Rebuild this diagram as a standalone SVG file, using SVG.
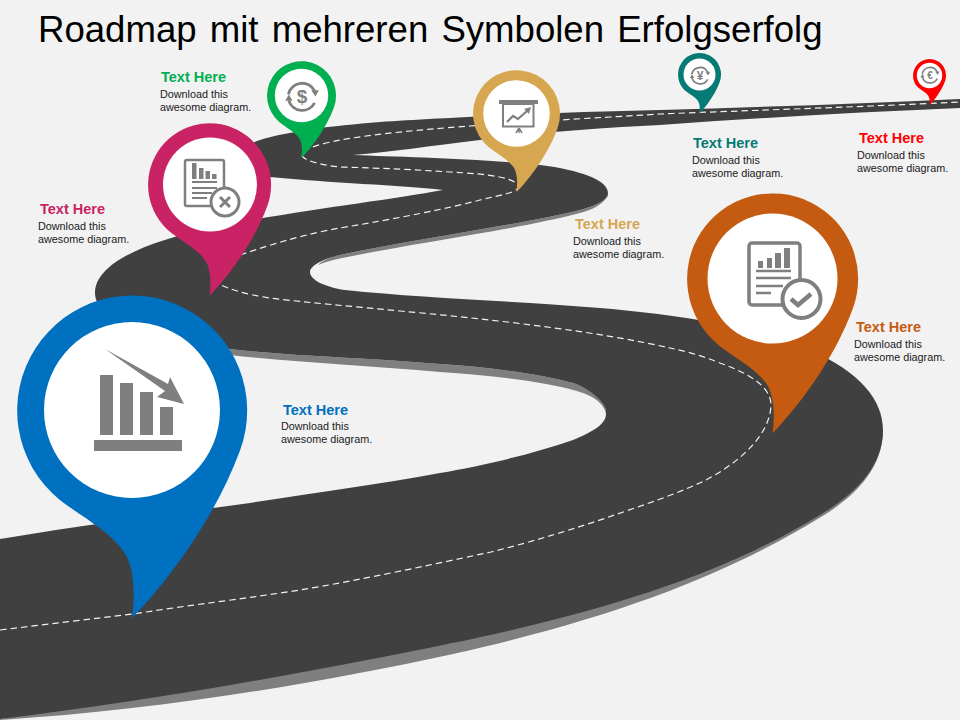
<svg xmlns="http://www.w3.org/2000/svg" xmlns:xlink="http://www.w3.org/1999/xlink" width="960" height="720" viewBox="0 0 960 720">
<style>
text{font-family:"Liberation Sans",Arial,sans-serif}
.h{font-size:14.5px;font-weight:700}
.b{font-size:10.8px;fill:#1a1a1a}
.g{fill:#7f7f7f}
.o{fill:none;stroke:#7f7f7f}
.in{fill:#fff}
.dash{fill:none;stroke:#f2f2f2;stroke-width:1.2;stroke-dasharray:6.5 4}
.sym{fill:#7f7f7f;font-weight:700;text-anchor:middle}
</style>
<defs>
<path id="pin" d="M-.63,.78A1,1 0 1 1 .94,.35C.72,.95 .3,1.5 0,1.81C.03,1.6 .02,1.35 -.08,1.22C-.2,1.05 -.45,.92 -.63,.78Z"/>
<g id="cycle">
<path class="o" stroke-width="2" d="M-9.7,-1.5A10,10 0 0 1 9,-4"/>
<path class="o" stroke-width="2" d="M9,4.5A10,10 0 0 1 -9.4,3"/>
<path class="g" d="M6.6,-4.5L12,-4.5L9.6,0Z"/>
<path class="g" d="M-12,3L-6.8,3L-9.4,-1.5Z"/>
</g>
</defs>
<rect width="960" height="720" fill="#f2f2f2"/>
<text id="title" x="38" y="42" font-size="36.6" word-spacing="3" fill="#000">Roadmap mit mehreren Symbolen Erfolgserfolg</text>
<g id="road">
<path class="g" d="M883,430C883,471 851,499 821,517C731,572 622,616 453,654C320,683 160,710 0,720L0,719L453,643L883,430Z"/>
<path class="g" d="M230,355C290,362 370,366 440,372C490,375 545,382 573,390C590,394 604,402 606,414L606,410C603,399 585,387 573,383C545,375 490,367 440,364C370,358 290,356 230,349Z"/>
<path class="g" d="M318,265C325,262 332,260 340,258.500C420,242 520,229 580,213C592,210 602,205 608,196L608,193C608,200 595,206 580,210C520,225 420,238 340,255C330,257 323,260 318,265Z"/>
<path fill="#404040" d="M0,539C90,524 170,514 250,503C320,492 380,484 440,473C480,466 530,455 573,440C590,433 606,425 606,414L606,410C603,399 585,387 573,383C545,375 490,367 440,364C370,358 290,356 230,349C150,340 95,320 95,293C95,262 150,240 220,226C300,210 390,200 443,190C400,185 330,183 270,177C250,172 240,165 240,158C240,150 250,143 260,140C290,131 330,126 380,122C440,118 560,112 660,110C760,107 860,104 960,99L960,108C860,112 760,118 660,125C600,128 530,133 480,140C430,146 390,152 353,155C400,157 470,158 540,165C580,170 608,180 608,193C608,200 595,206 580,210C520,225 420,238 340,255C322,259 310,266 310,272C310,280 325,287 345,290C420,298 500,300 600,308C690,316 760,328 810,350C860,372 883,400 883,430C883,470 850,497 820,515C730,570 620,608 453,643C320,670 160,700 0,719Z"/>
</g>
<g id="connectors">
<path class="dash" d="M0,630C50,624 90,619 133,614C190,605 250,598 300,590C360,580 430,565 491,552C535,541 570,530 606,518C640,506 675,495 706,480C740,462 770,435 771,405C771,385 745,372 720,363C700,355 685,351 670,348C600,332 500,320 400,311C350,306 310,303 270,298C245,294 230,290 215,282"/>
<path class="dash" d="M240,255C275,243 310,233 340,228C400,218 450,208 480,200C500,195 517,193 518,187C518,178 490,174 450,172C420,170 380,168 340,167C320,165 302,160 302,155C302,148 325,143 340,140C380,133 430,129 470,126C500,124 530,121 560,120C590,118 630,116 660,114C760,110 860,107 960,102"/>
</g>
<g id="node-blue">
<use xlink:href="#pin" href="#pin" transform="translate(132,410) scale(115)" fill="#0070c0"/>
<circle class="in" cx="132" cy="410" r="88"/>
<path class="g" d="M100,375h13v60h-13zM120,383h13v52h-13zM140,392h13v43h-13zM160,407h13v28h-13zM94,440h88v11h-88zM105,349L168,384L170,377L184,404L157,397L165,391Z"/>
<text class="h" x="283" y="415" fill="#0070c0">Text Here</text>
<text class="b" x="281" y="430">Download this</text><text class="b" x="281" y="443">awesome diagram.</text>
</g>
<g id="node-pink">
<use xlink:href="#pin" href="#pin" transform="translate(209.500,184.500) scale(61.500)" fill="#c92365"/>
<circle class="in" cx="210" cy="184.500" r="47"/>
<rect class="o" stroke-width="2.500" x="185" y="160" width="39" height="46" rx="2"/>
<path class="g" d="M192,163h4.500v16h-4.500zM199,168h4.500v11h-4.500zM205.500,171h4.500v8h-4.500zM212,174h4.500v5h-4.500z"/>
<path class="o" stroke-width="1.800" d="M192,182h25M192,188h25M192,193h20M192,198h15"/>
<circle cx="225" cy="202" r="14" fill="#fff" stroke="#7f7f7f" stroke-width="3"/>
<path class="o" stroke-width="3" d="M220,197l10,10M230,197l-10,10"/>
<text class="h" x="40" y="214" fill="#c92365">Text Here</text>
<text class="b" x="38" y="230">Download this</text><text class="b" x="38" y="243">awesome diagram.</text>
</g>
<g id="node-green">
<use xlink:href="#pin" href="#pin" transform="translate(301.500,95.500) scale(34.500)" fill="#00b050"/>
<circle class="in" cx="301.500" cy="95.500" r="26.700"/>
<use xlink:href="#cycle" href="#cycle" transform="translate(302,96.500) scale(1.400)"/>
<text class="sym" x="302" y="103" font-size="19">$</text>
<text class="h" x="161" y="82" fill="#00b050">Text Here</text>
<text class="b" x="160" y="98">Download this</text><text class="b" x="160" y="111">awesome diagram.</text>
</g>
<g id="node-gold">
<use xlink:href="#pin" href="#pin" transform="translate(516.500,113.500) scale(43.500)" fill="#d6a651"/>
<circle class="in" cx="516.500" cy="113.500" r="33.300"/>
<path class="g" d="M499,100h39v4h-39z"/>
<rect class="o" stroke-width="2" x="503" y="104" width="30.500" height="22.500"/>
<path class="o" stroke-width="2.200" d="M507,122L513,116L518,119L527,111"/>
<path class="g" d="M524,109L531,107L529,114Z"/>
<path class="o" stroke-width="1.500" d="M519,128L516,133M519,128V133M519,128L522,133"/>
<text class="h" x="575" y="229" fill="#d6a651">Text Here</text>
<text class="b" x="573" y="245">Download this</text><text class="b" x="573" y="258">awesome diagram.</text>
</g>
<g id="node-teal">
<use xlink:href="#pin" href="#pin" transform="translate(699.500,74.500) scale(21.500)" fill="#067a74"/>
<circle class="in" cx="699.500" cy="74.500" r="16"/>
<use xlink:href="#cycle" href="#cycle" transform="translate(700,75.500) scale(.85)"/>
<text class="sym" x="700" y="80" font-size="12">¥</text>
<text class="h" x="693" y="148" fill="#067a74">Text Here</text>
<text class="b" x="692" y="164">Download this</text><text class="b" x="692" y="177">awesome diagram.</text>
</g>
<g id="node-red">
<use xlink:href="#pin" href="#pin" transform="translate(929.500,75.500) scale(16.500)" fill="#ff0000"/>
<circle class="in" cx="929.500" cy="75.500" r="12.700"/>
<use xlink:href="#cycle" href="#cycle" transform="translate(930,75) scale(.8)"/>
<text class="sym" x="930" y="79" font-size="10">€</text>
<text class="h" x="859" y="143" fill="#ff0000">Text Here</text>
<text class="b" x="857" y="159">Download this</text><text class="b" x="857" y="172">awesome diagram.</text>
</g>
<g id="node-orange">
<use xlink:href="#pin" href="#pin" transform="translate(772.500,278.500) scale(85.500)" fill="#c55a11"/>
<circle class="in" cx="772.500" cy="278.500" r="65"/>
<rect class="o" stroke-width="3.500" x="749" y="243" width="51" height="62" rx="3"/>
<path class="g" d="M758,261h5v7h-5zM767,258h5v10h-5zM775,253h6v15h-6zM784,248h6v20h-6z"/>
<path class="o" stroke-width="2.500" d="M756,271h35M756,278h35M756,286h27M756,293h15"/>
<circle cx="801.500" cy="299" r="19" fill="#fff" stroke="#7f7f7f" stroke-width="4"/>
<path class="o" stroke-width="4.500" d="M791,299l7,6l13,-11"/>
<text class="h" x="856" y="332" fill="#c55a11">Text Here</text>
<text class="b" x="854" y="348">Download this</text><text class="b" x="854" y="361">awesome diagram.</text>
</g>
</svg>
